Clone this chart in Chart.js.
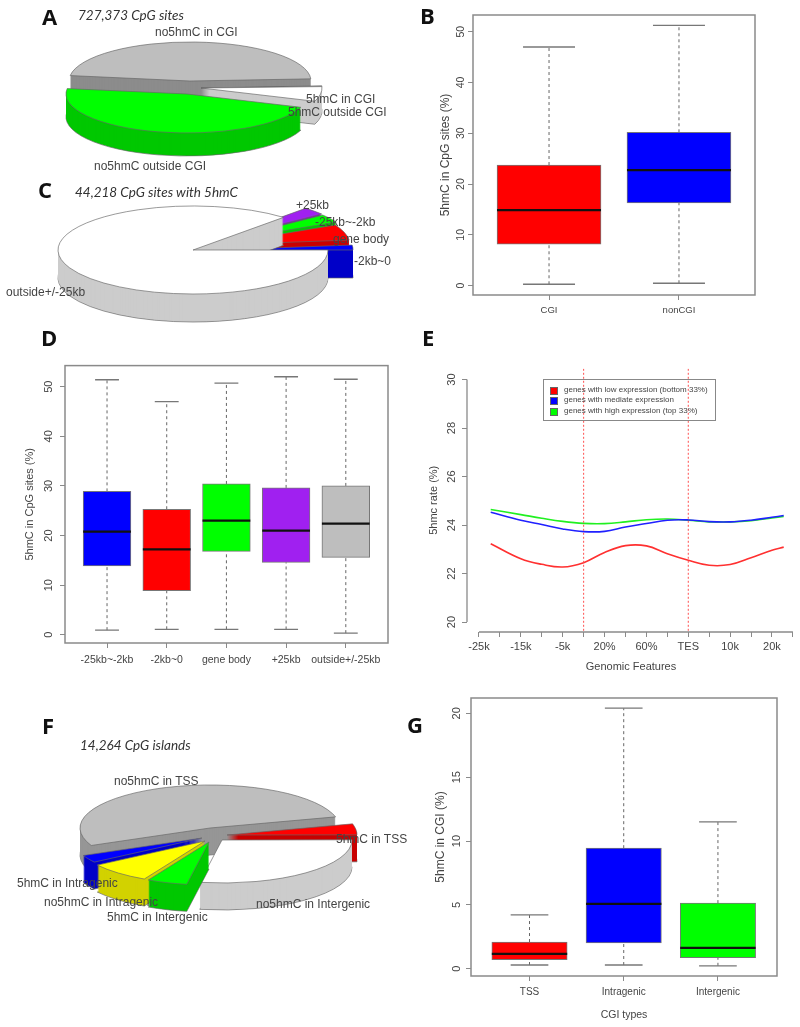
<!DOCTYPE html>
<html>
<head>
<meta charset="utf-8">
<script src="https://cdn.jsdelivr.net/npm/chart.js@4"></script>
<style>
  html, body { margin: 0; padding: 0; background: #fff; }
  #page { position: relative; width: 800px; height: 1027px; overflow: hidden; font-family: "Liberation Sans", sans-serif; }
  canvas { position: absolute; }
  .lbl { position: absolute; white-space: nowrap; font-size: 12px; line-height: 14px; color: #444; transform: translateY(-50%); }
  .ttl { position: absolute; white-space: nowrap; font: italic 13.5px Lato, sans-serif; color: #333; transform: translateY(-50%); }
  .letter { position: absolute; font: bold 22px "Open Sans", sans-serif; color: #111; transform: translateY(-50%); }
  #legendE { position: absolute; left: 543px; top: 379px; width: 171px; height: 40px; border: 1px solid #888; font-size: 8px; color: #444; }
  #legendE div { position: absolute; left: 20px; white-space: nowrap; line-height: 10px; }
  #legendE i { position: absolute; left: -14px; top: 2px; width: 6px; height: 6px; border: 0.5px solid #666; }
</style>
</head>
<body>
<div id="page"></div>
<script>
// --- pie data (share of sites, %) ---
const pieALabels = ["no5hmC in CGI", "5hmC in CGI", "5hmC outside CGI", "no5hmC outside CGI"];
const pieAValues = [46.9, 0.3, 6.1, 46.7];
const pieAColors = ["#bebebe", "#777777", "#ffffff", "#00ff00"];
const pieASides = ["#8c8c8c", "#555555", "#cccccc", "#00c800"];

const pieCLabels = ["outside+/-25kb", "+25kb", "-25kb~-2kb", "gene body", "-2kb~0"];
const pieCValues = [86.7, 2.8, 3.0, 5.7, 1.8];
const pieCColors = ["#ffffff", "#a020f0", "#00ff00", "#ff0000", "#0000ff"];
const pieCSides = ["#cccccc", "#7a18b8", "#00c800", "#c80000", "#0000c8"];

const pieFLabels = ["no5hmC in TSS", "5hmC in TSS", "no5hmC in Intergenic", "5hmC in Intergenic", "no5hmC in Intragenic", "5hmC in Intragenic"];
const pieFValues = [52.5, 4.1, 27.8, 5, 7.8, 2.8];
const pieFColors = ["#bebebe", "#ff0000", "#ffffff", "#00ff00", "#ffff00", "#0000ff"];
const pieFSides = ["#969696", "#c80000", "#cccccc", "#00c800", "#d2d200", "#0000c8"];

// --- boxplot B ---
const catsB = ["CGI", "nonCGI"];
const lowB = [0.26, 0.46];
const q1B = [8.16, 16.3];
const medB = [14.87, 22.76];
const q3B = [23.75, 30.2];
const highB = [47.0, 51.25];
const colorsB = ["#ff0000", "#0000ff"];
const yTicksB = [0, 10, 20, 30, 40, 50];

// --- boxplot D ---
const catsD = ["-25kb~-2kb", "-2kb~0", "gene body", "+25kb", "outside+/-25kb"];
const lowD = [0.93, 1.1, 1.1, 1.07, 0.33];
const q1D = [13.9, 8.9, 16.8, 14.6, 15.6];
const medD = [20.8, 17.2, 23, 21, 22.4];
const q3D = [28.9, 25.3, 30.4, 29.6, 30];
const highD = [51.4, 47, 50.7, 52, 51.5];
const colorsD = ["#0000ff", "#ff0000", "#00ff00", "#a020f0", "#bebebe"];
const yTicksD = [0, 10, 20, 30, 40, 50];

// --- boxplot G ---
const catsG = ["TSS", "Intragenic", "Intergenic"];
const lowG = [0.29, 0.29, 0.23];
const q1G = [0.7, 2.03, 0.86];
const medG = [1.17, 5.08, 1.64];
const q3G = [2.09, 9.44, 5.14];
const highG = [4.22, 20.4, 11.5];
const colorsG = ["#ff0000", "#0000ff", "#00ff00"];
const yTicksG = [0, 5, 10, 15, 20];

// --- line chart E ---
const xTicksE = ["-25k", "", "-15k", "", "-5k", "", "20%", "", "60%", "", "TES", "", "10k", "", "20k", ""];
const yTicksE = [20, 22, 24, 26, 28, 30];
const xE = [0.56, 2, 3, 4, 5, 6, 7, 8, 9, 10, 11, 12, 13, 14, 14.56];
const lowExpr = [23.23, 22.61, 22.38, 22.27, 22.45, 22.87, 23.15, 23.14, 22.82, 22.55, 22.34, 22.37, 22.65, 22.96, 23.09];
const midExpr = [24.53, 24.2, 24.02, 23.84, 23.73, 23.74, 23.92, 24.06, 24.2, 24.21, 24.14, 24.13, 24.2, 24.32, 24.39];
const highExpr = [24.64, 24.43, 24.28, 24.15, 24.07, 24.06, 24.13, 24.22, 24.25, 24.2, 24.13, 24.13, 24.18, 24.29, 24.35];
const markersE = [5, 10];
const namesE = ["genes with low expression (bottom 33%)", "genes with mediate expression", "genes with high expression (top 33%)"];
const colorsE = ["#ff3030", "#2020ff", "#20f020"];

const page = document.getElementById("page");
const axisGrey = "#8a8a8a";
const textGrey = "#444";
const sansFont = "'Liberation Sans', sans-serif";

function addCanvas(left, top, w, h) {
  const c = document.createElement("canvas");
  c.width = w;
  c.height = h;
  c.style.left = left + "px";
  c.style.top = top + "px";
  page.appendChild(c);
  return c;
}

function addText(cls, text, x, y) {
  const d = document.createElement("div");
  d.className = cls;
  d.textContent = text;
  d.style.left = x + "px";
  d.style.top = y + "px";
  page.appendChild(d);
}

// squashes the library's arcs into a tilted pie and stacks them to get the wall
function pie3dPlugin(sides, shifts, squash, depth) {
  return {
    id: "pie3d",
    beforeDatasetDraw(chart) {
      const ctx = chart.ctx;
      const arcs = chart.getDatasetMeta(0).data;
      const mid = a => (a.startAngle + a.endAngle) / 2;
      const order = arcs.map((a, i) => i).sort((p, q) => Math.sin(mid(arcs[p])) - Math.sin(mid(arcs[q])));
      order.forEach(i => {
        const arc = arcs[i];
        const base = arc.options;
        for (let d = depth; d >= 0; d--) {
          ctx.save();
          ctx.translate(shifts[i][0], shifts[i][1] + d);
          ctx.translate(arc.x, arc.y);
          ctx.scale(1, squash);
          ctx.translate(-arc.x, -arc.y);
          const outlined = d === 0 || d === depth;
          arc.options = Object.assign({}, base, {
            backgroundColor: d === 0 ? base.backgroundColor : sides[i],
            borderColor: outlined ? "#666" : sides[i],
            borderWidth: outlined ? 1 : 0
          });
          arc.draw(ctx);
          arc.options = base;
          ctx.restore();
        }
      });
      return false;
    }
  };
}

function drawPie(cfg) {
  const w = 380, h = 200;
  const c = addCanvas(cfg.cx - w / 2, cfg.cy - h / 2, w, h);
  new Chart(c.getContext("2d"), {
    type: "pie",
    data: {
      labels: cfg.labels,
      datasets: [{ data: cfg.values, backgroundColor: cfg.colors, borderWidth: 0 }]
    },
    options: {
      responsive: false,
      animation: false,
      events: [],
      rotation: cfg.rotation,
      radius: cfg.rx,
      plugins: { legend: { display: false }, tooltip: { enabled: false } }
    },
    plugins: [pie3dPlugin(cfg.sides, cfg.shifts, cfg.ry / cfg.rx, cfg.depth)]
  });
  cfg.labels.forEach((t, i) => addText("lbl", t, cfg.labelPos[i][0], cfg.labelPos[i][1]));
}

const framePlugin = {
  id: "frame",
  afterDraw(chart) {
    const a = chart.chartArea;
    const ctx = chart.ctx;
    ctx.save();
    ctx.strokeStyle = axisGrey;
    ctx.lineWidth = 1.5;
    ctx.strokeRect(a.left, a.top, a.right - a.left, a.bottom - a.top);
    ctx.restore();
  }
};

function yAxis(cfg, marginLeft) {
  const lh = cfg.titleSize * 1.2;
  return {
    type: "linear",
    min: cfg.yMin,
    max: cfg.yMax,
    afterBuildTicks: s => { s.ticks = cfg.yTicks.map(v => ({ value: v })); },
    afterFit: s => { s.width = marginLeft; },
    border: { display: false },
    grid: { drawOnChartArea: false, tickLength: 5, color: axisGrey },
    ticks: {
      autoSkip: false, minRotation: 90, maxRotation: 90, crossAlign: "center",
      padding: cfg.yPad, color: textGrey, font: { family: sansFont, size: cfg.tickSize },
      callback: v => v
    },
    title: {
      display: true, text: cfg.yTitle, color: textGrey,
      font: { family: sansFont, size: cfg.titleSize },
      padding: { top: cfg.titleX - (cfg.frame[0] - marginLeft) - lh / 2 + 1.5, bottom: 0 }
    }
  };
}

function drawBox(cfg) {
  const marginLeft = 50, marginTop = 10, marginRight = 10;
  const [L, T, R, B] = cfg.frame;
  const marginBottom = cfg.marginBottom;
  const c = addCanvas(L - marginLeft, T - marginTop, R - L + marginLeft + marginRight, B - T + marginTop + marginBottom);
  const unit = (R - L) / (cfg.xMax - cfg.xMin);
  const xs = cfg.cats.map((t, i) => i + 1);
  const datasets = [];

  xs.forEach((x, i) => {
    [[cfg.low[i], cfg.q1[i]], [cfg.q3[i], cfg.high[i]]].forEach(seg => {
      datasets.push({
        type: "line", order: 3,
        data: [{ x: x, y: seg[0] }, { x: x, y: seg[1] }],
        borderColor: "#666", borderWidth: 1, borderDash: [3, 3], pointRadius: 0
      });
    });
  });
  datasets.push({
    type: "bar", order: 2,
    data: xs.map((x, i) => ({ x: x, y: [cfg.q1[i], cfg.q3[i]] })),
    backgroundColor: cfg.colors,
    borderColor: "#777",
    borderWidth: 1,
    borderSkipped: false,
    barThickness: 0.8 * unit
  });
  // whisker caps
  datasets.push({
    type: "line", showLine: false, order: 1,
    data: xs.flatMap((x, i) => [{ x: x, y: cfg.low[i] }, { x: x, y: cfg.high[i] }]),
    pointStyle: "line", pointRadius: 0.2 * unit, pointBorderColor: "#777", pointBorderWidth: 1.3
  });
  // medians
  datasets.push({
    type: "line", showLine: false, order: 0,
    data: xs.map((x, i) => ({ x: x, y: cfg.med[i] })),
    pointStyle: "line", pointRadius: 0.4 * unit, pointBorderColor: "#111", pointBorderWidth: 2.2
  });

  const xAxis = {
    type: "linear",
    offset: false,
    min: cfg.xMin,
    max: cfg.xMax,
    afterBuildTicks: s => { s.ticks = xs.map(v => ({ value: v })); },
    afterFit: s => { s.height = marginBottom; },
    border: { display: false },
    grid: { drawOnChartArea: false, offset: false, tickLength: 5, color: axisGrey },
    ticks: {
      autoSkip: false, maxRotation: 0, padding: cfg.xPad, color: textGrey,
      font: { family: sansFont, size: cfg.xTickSize },
      callback: v => cfg.cats[v - 1]
    }
  };
  if (cfg.xTitle) {
    xAxis.title = {
      display: true, text: cfg.xTitle, color: textGrey,
      font: { family: sansFont, size: 10.5 },
      padding: { top: 0, bottom: cfg.xTitlePad }
    };
  }

  new Chart(c.getContext("2d"), {
    type: "bar",
    data: { datasets: datasets },
    options: {
      responsive: false,
      animation: false,
      events: [],
      layout: { autoPadding: false, padding: { left: 0, top: marginTop, right: marginRight, bottom: 0 } },
      scales: { x: xAxis, y: yAxis(cfg, marginLeft) },
      plugins: { legend: { display: false }, tooltip: { enabled: false } }
    },
    plugins: [framePlugin]
  });
}

function drawLinesE() {
  const marginLeft = 50, marginBottom = 50, marginTop = 10, marginRight = 4;
  const frame = [467, 368, 795, 632];
  const [L, T, R, B] = frame;
  const yMin = 19.59, yMax = 30.45;
  const c = addCanvas(L - marginLeft, T - marginTop, R - L + marginLeft + marginRight, B - T + marginTop + marginBottom);
  const toPts = vals => xE.map((x, i) => ({ x: x, y: vals[i] }));
  const datasets = markersE.map(k => ({
    data: [{ x: k, y: yMin + 0.05 }, { x: k, y: yMax }],
    borderColor: "#ff5050", borderWidth: 1, borderDash: [2, 2], pointRadius: 0
  }));
  [lowExpr, midExpr, highExpr].forEach((vals, i) => {
    datasets.push({
      data: toPts(vals), borderColor: colorsE[i], borderWidth: 1.6,
      pointRadius: 0, tension: 0.4
    });
  });

  const axisLines = {
    id: "axisLines",
    afterDraw(chart) {
      const ctx = chart.ctx, a = chart.chartArea;
      const sx = chart.scales.x, sy = chart.scales.y;
      ctx.save();
      ctx.strokeStyle = axisGrey;
      ctx.lineWidth = 1.3;
      ctx.beginPath();
      ctx.moveTo(a.left, sy.getPixelForValue(yTicksE[0]));
      ctx.lineTo(a.left, sy.getPixelForValue(yTicksE[yTicksE.length - 1]));
      ctx.moveTo(sx.getPixelForValue(0), a.bottom);
      ctx.lineTo(sx.getPixelForValue(xTicksE.length - 1), a.bottom);
      ctx.stroke();
      ctx.restore();
    }
  };

  new Chart(c.getContext("2d"), {
    type: "line",
    data: { datasets: datasets },
    options: {
      responsive: false,
      animation: false,
      events: [],
      layout: { autoPadding: false, padding: { left: 0, top: marginTop, right: marginRight, bottom: 0 } },
      scales: {
        x: {
          type: "linear",
          min: -0.573,
          max: 15.1,
          afterBuildTicks: s => { s.ticks = xTicksE.map((t, i) => ({ value: i })); },
          afterFit: s => { s.height = marginBottom; },
          border: { display: false },
          grid: { drawOnChartArea: false, tickLength: 5, color: axisGrey },
          ticks: {
            autoSkip: false, maxRotation: 0, padding: 3, color: textGrey,
            font: { family: sansFont, size: 11 },
            callback: v => xTicksE[v]
          },
          title: {
            display: true, text: "Genomic Features", color: textGrey,
            font: { family: sansFont, size: 11 },
            padding: { top: 0, bottom: 8 }
          }
        },
        y: yAxis({
          frame: frame, yMin: yMin, yMax: yMax, yTicks: yTicksE, yPad: 4, tickSize: 11,
          yTitle: "5hmc rate (%)", titleSize: 11, titleX: 432
        }, marginLeft)
      },
      plugins: { legend: { display: false }, tooltip: { enabled: false } }
    },
    plugins: [axisLines]
  });

  const box = document.createElement("div");
  box.id = "legendE";
  namesE.forEach((name, i) => {
    const row = document.createElement("div");
    row.textContent = name;
    row.style.top = (5 + i * 10.4) + "px";
    const sw = document.createElement("i");
    sw.style.background = ["#ff0000", "#0000ff", "#00ff00"][i];
    row.appendChild(sw);
    box.appendChild(row);
  });
  page.appendChild(box);
}

// --- panels ---
drawPie({
  labels: pieALabels, values: pieAValues, colors: pieAColors, sides: pieASides,
  cx: 190, cy: 81, rx: 121, ry: 39, depth: 23, rotation: 278,
  shifts: [[0, 0], [11, 7], [11, 7], [-3, 13]],
  labelPos: [[155, 32], [306, 99], [288, 112], [94, 166]]
});
drawPie({
  labels: pieCLabels, values: pieCValues, colors: pieCColors, sides: pieCSides,
  cx: 193, cy: 250, rx: 135, ry: 44, depth: 28, rotation: 90,
  shifts: [[0, 0], [22, -9], [23, -8], [22, -5], [25, 0]],
  labelPos: [[6, 292], [296, 205], [315, 222], [333, 239], [354, 261]]
});
drawPie({
  labels: pieFLabels, values: pieFValues, colors: pieFColors, sides: pieFSides,
  cx: 210, cy: 828, rx: 130, ry: 43, depth: 27, rotation: 246,
  shifts: [[0, 0], [17, 7], [12, 12], [-1, 14], [-5, 13], [-8, 10]],
  labelPos: [[114, 781], [336, 839], [256, 904], [107, 917], [44, 902], [17, 883]]
});

drawBox({
  frame: [473, 15, 755, 295], cats: catsB, low: lowB, q1: q1B, med: medB, q3: q3B, high: highB, colors: colorsB,
  xMin: 0.415, xMax: 2.585, yMin: -1.855, yMax: 53.3, yTicks: yTicksB, yPad: 1, tickSize: 10.5, xTickSize: 9.5, xPad: 5,
  yTitle: "5hmC in CpG sites (%)", titleSize: 12, titleX: 444, marginBottom: 30
});
drawBox({
  frame: [65, 364, 388, 643], cats: catsD, low: lowD, q1: q1D, med: medD, q3: q3D, high: highD, colors: colorsD,
  xMin: 0.296, xMax: 5.707, yMin: -1.66, yMax: 54.25, yTicks: yTicksD, yPad: 5, tickSize: 11, xTickSize: 10.5, xPad: 6,
  yTitle: "5hmC in CpG sites (%)", titleSize: 11, titleX: 28, marginBottom: 30
});
drawBox({
  frame: [471, 698, 777, 976], cats: catsG, low: lowG, q1: q1G, med: medG, q3: q3G, high: highG, colors: colorsG,
  xMin: 0.379, xMax: 3.627, yMin: -0.57, yMax: 21.2, yTicks: yTicksG, yPad: 3, tickSize: 11, xTickSize: 10, xPad: 5,
  yTitle: "5hmC in CGI (%)", titleSize: 12, titleX: 439, marginBottom: 50,
  xTitle: "CGI types", xTitlePad: 5
});
drawLinesE();

// --- panel letters and pie titles ---
addText("letter", "A", 42, 16);
addText("letter", "B", 420, 15);
addText("letter", "C", 38, 189);
addText("letter", "D", 41, 337);
addText("letter", "E", 422, 337);
addText("letter", "F", 42, 725);
addText("letter", "G", 407, 724);
addText("ttl", "727,373 CpG sites", 78, 15);
addText("ttl", "44,218 CpG sites with 5hmC", 75, 192);
addText("ttl", "14,264 CpG islands", 80, 745);
</script>
</body>
</html>
